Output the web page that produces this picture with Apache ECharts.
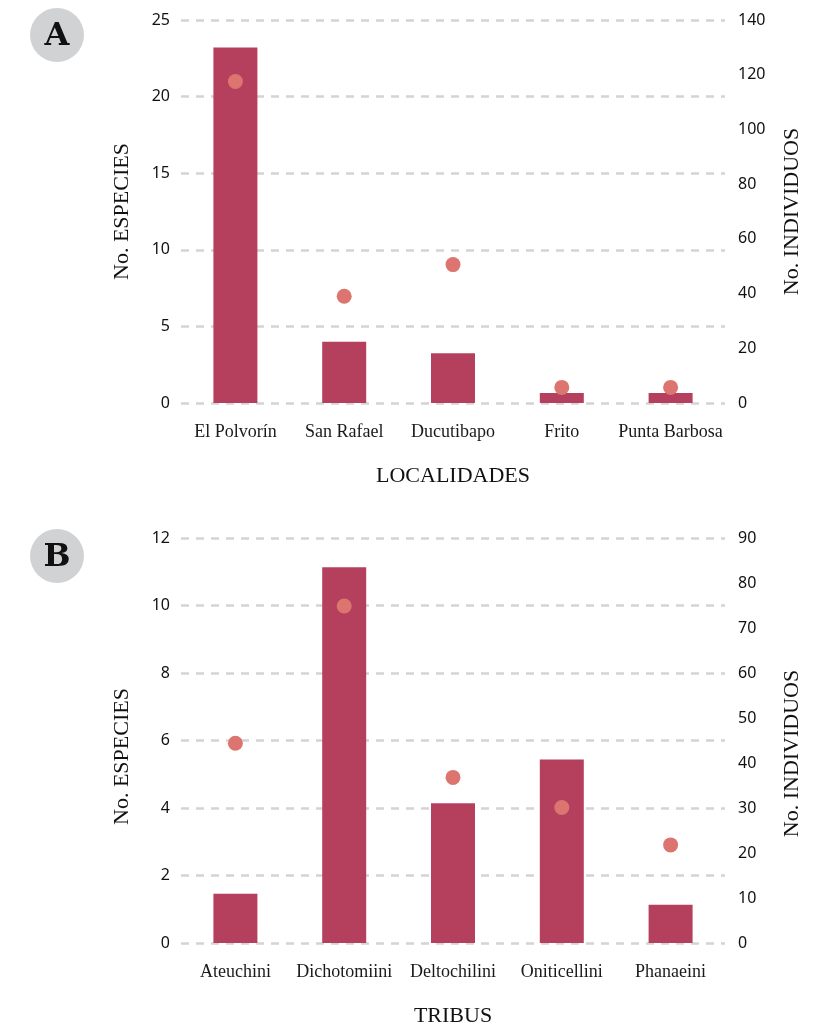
<!DOCTYPE html>
<html>
<head>
<meta charset="utf-8">
<script src="https://cdn.jsdelivr.net/npm/echarts@6/dist/echarts.min.js"></script>
<style>
  html, body { margin: 0; padding: 0; background: #fff; }
  #chart { width: 824px; height: 1028px; }
</style>
</head>
<body>
<div id="chart"></div>
<script>
// panel A: localidades
const localidades = ['El Polvorín', 'San Rafael', 'Ducutibapo', 'Frito', 'Punta Barbosa']
const especiesA = [23.2, 4, 3.25, 0.65, 0.65]
const individuosA = [117.5, 39, 50.6, 5.7, 5.7]

// panel B: tribus
const tribus = ['Ateuchini', 'Dichotomiini', 'Deltochilini', 'Oniticellini', 'Phanaeini']
const especiesB = [1.46, 11.13, 4.14, 5.44, 1.13]
const individuosB = [44.4, 74.9, 36.8, 30.1, 21.8]

const barColor = '#b5405e'
const dotColor = '#dc7470'
const serif = '"Liberation Serif", "DejaVu Serif", serif'
const sans = '"Noto Sans", "Open Sans", sans-serif'

const tickLabel = { color: '#111', fontFamily: sans, fontSize: 16 }
const gridLine = { show: true, lineStyle: { color: '#d4d4d4', width: 2.5, type: [8, 7] } }

const xAxisOf = (gridIndex, data, name) => ({
  type: 'category',
  gridIndex,
  data,
  name,
  nameLocation: 'middle',
  nameGap: 62,
  nameTextStyle: { color: '#111', fontFamily: serif, fontSize: 22 },
  axisLine: { show: false },
  axisTick: { show: false },
  axisLabel: { color: '#1a1a1a', fontFamily: serif, fontSize: 18, margin: 20, interval: 0 }
})

const yAxisOf = (gridIndex, position, max, interval, name, shift) => ({
  type: 'value',
  gridIndex,
  position,
  min: 0,
  max,
  interval,
  name,
  nameLocation: 'middle',
  nameGap: position === 'left' ? 48 : 56,
  nameTextStyle: { color: '#111', fontFamily: serif, fontSize: 22, padding: [0, shift, 0, 0] },
  axisLine: { show: false },
  axisTick: { show: false },
  axisLabel: { ...tickLabel, margin: position === 'left' ? 11 : 13 },
  splitLine: position === 'left' ? gridLine : { show: false }
})

const badge = (y, letter) => ({
  type: 'group',
  children: [
    { type: 'circle', shape: { cx: 57, cy: y, r: 27 }, style: { fill: '#d1d2d4' } },
    {
      type: 'text', x: 57, y: y + 2,
      style: { text: letter, fontFamily: '"DejaVu Serif", serif', fontWeight: 'bold', fontSize: 32, fill: '#111', align: 'center', verticalAlign: 'middle' }
    }
  ]
})

const chart = echarts.init(document.getElementById('chart'))
chart.setOption({
  animation: false,
  backgroundColor: '#fff',
  grid: [
    { left: 181, right: 99, top: 20, height: 383 },
    { left: 181, right: 99, top: 538, height: 406 }
  ],
  xAxis: [
    xAxisOf(0, localidades, 'LOCALIDADES'),
    xAxisOf(1, tribus, 'TRIBUS')
  ],
  yAxis: [
    yAxisOf(0, 'left', 25, 5, 'No. ESPECIES', 0),
    yAxisOf(0, 'right', 140, 20, 'No. INDIVIDUOS', 0),
    yAxisOf(1, 'left', 12, 2, 'No. ESPECIES', 32),
    yAxisOf(1, 'right', 90, 10, 'No. INDIVIDUOS', 26)
  ],
  series: [
    { type: 'bar', xAxisIndex: 0, yAxisIndex: 0, data: especiesA, barWidth: 44, itemStyle: { color: barColor } },
    { type: 'scatter', xAxisIndex: 0, yAxisIndex: 1, data: individuosA, symbolSize: 15, itemStyle: { color: dotColor, opacity: 1 } },
    { type: 'bar', xAxisIndex: 1, yAxisIndex: 2, data: especiesB, barWidth: 44, itemStyle: { color: barColor } },
    { type: 'scatter', xAxisIndex: 1, yAxisIndex: 3, data: individuosB, symbolSize: 15, itemStyle: { color: dotColor, opacity: 1 } }
  ],
  graphic: [badge(35, 'A'), badge(556, 'B')]
})
</script>
</body>
</html>
